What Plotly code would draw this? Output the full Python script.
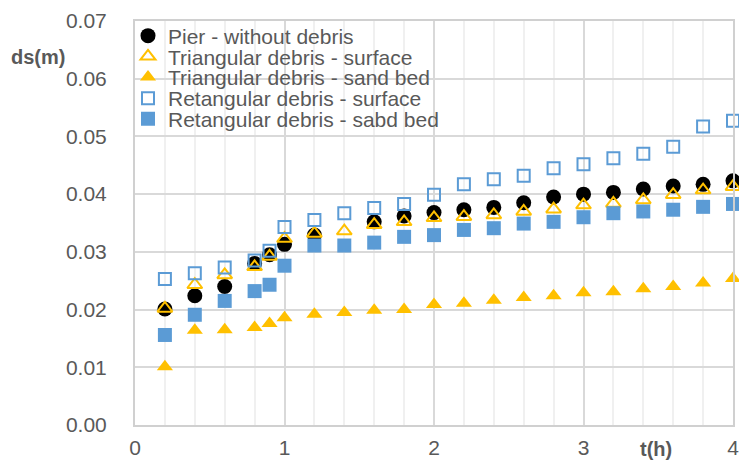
import plotly.graph_objects as go

t_h = [0.2, 0.4, 0.6, 0.8, 0.9, 1.0, 1.2, 1.4, 1.6, 1.8, 2.0, 2.2, 2.4, 2.6, 2.8, 3.0, 3.2, 3.4, 3.6, 3.8, 4.0]

pier = [0.0201, 0.0224, 0.0240, 0.0280, 0.0295, 0.0313, 0.0329, None, 0.0352, 0.0362, 0.0368,
        0.0373, 0.0377, 0.0385, 0.0395, 0.0400, 0.0403, 0.0409, 0.0414, 0.0417, 0.0423]
tri_surface = [0.0202, 0.0243, 0.0260, 0.0274, 0.0292, 0.0323, 0.0332, 0.0336, 0.0347, 0.0352, 0.0359,
               0.0361, 0.0364, 0.0370, 0.0374, 0.0381, 0.0384, 0.0390, 0.0399, 0.0407, 0.0413]
tri_sand = [0.0101, 0.0164, 0.0165, 0.0169, 0.0176, 0.0186, 0.0192, 0.0195, 0.0199, 0.0200, 0.0209,
            0.0211, 0.0216, 0.0221, 0.0224, 0.0229, 0.0231, 0.0236, 0.0240, 0.0246, 0.0254]
rect_surface = [0.0253, 0.0263, 0.0273, 0.0285, 0.0302, 0.0343, 0.0355, 0.0367, 0.0376, 0.0383, 0.0399,
                0.0417, 0.0426, 0.0432, 0.0445, 0.0452, 0.0462, 0.0470, 0.0482, 0.0517, 0.0527]
rect_sand = [0.0156, 0.0191, 0.0215, 0.0232, 0.0243, 0.0276, 0.0311, 0.0311, 0.0316, 0.0326, 0.0329,
             0.0338, 0.0341, 0.0349, 0.0352, 0.0360, 0.0367, 0.0370, 0.0373, 0.0378, 0.0383]

names = ["Pier - without debris", "Triangular debris - surface", "Triangular debris - sand bed",
         "Retangular debris - surface", "Retangular debris - sabd bed"]

x_ticks = [0, 1, 2, 3, 4]
y_ticks = [0.00, 0.01, 0.02, 0.03, 0.04, 0.05, 0.06, 0.07]

ORANGE = "#FFC000"
BLUE = "#5B9BD5"
TXT = "#595959"
FONT = "Liberation Sans, Arial, sans-serif"

series = [
    (pier, dict(symbol="circle", size=15, color="black", line=dict(width=0))),
    (tri_surface, dict(symbol="triangle-up-open", size=13, color=ORANGE, line=dict(width=2, color=ORANGE))),
    (tri_sand, dict(symbol="triangle-up", size=14, color=ORANGE, line=dict(width=0))),
    (rect_surface, dict(symbol="square-open", size=12, color=BLUE, line=dict(width=2, color=BLUE))),
    (rect_sand, dict(symbol="square", size=14, color=BLUE, line=dict(width=0))),
]

fig = go.Figure()
legend_ids = ["legend", "legend2", "legend3", "legend4", "legend5"]
for (vals, mk), nm, lg in zip(series, names, legend_ids):
    fig.add_trace(go.Scatter(x=t_h, y=vals, mode="markers", name=nm, marker=mk,
                             legend=lg, cliponaxis=False))

legend_y_px = [36, 56.7, 77.3, 98.5, 119]
top, bottom = 21, 425
left, right = 135, 733
layout_legends = {}
for lg, ypx in zip(legend_ids, legend_y_px):
    layout_legends[lg] = dict(
        x=(128 - left) / (right - left), xanchor="left",
        y=(bottom - ypx) / (bottom - top), yanchor="middle",
        bgcolor="rgba(0,0,0,0)", borderwidth=0,
        font=dict(family=FONT, size=21, color=TXT),
        tracegroupgap=0,
    )

fig.update_layout(
    width=739, height=461,
    margin=dict(l=left, r=739 - right, t=top, b=461 - bottom, autoexpand=False),
    paper_bgcolor="white", plot_bgcolor="white",
    font=dict(family=FONT, size=21, color=TXT),
    showlegend=True,
    **layout_legends,
)

fig.add_shape(type="rect", xref="paper", yref="paper",
              x0=(137 - left) / (right - left), x1=(443 - left) / (right - left),
              y0=(bottom - 135) / (bottom - top), y1=(bottom - 26) / (bottom - top),
              fillcolor="white", line=dict(width=0), layer="between")

fig.update_xaxes(
    range=[0, 4], tickvals=x_ticks, ticktext=[str(v) for v in x_ticks],
    showgrid=True, gridcolor="#D9D9D9", gridwidth=1.5,
    minor=dict(dtick=0.2, showgrid=True, gridcolor="#F0F0F0", gridwidth=1.5),
    showline=True, linecolor="#D0D0D0", linewidth=2, mirror=True,
    zeroline=False, ticks="", ticklabelstandoff=3, automargin=False,
    ticklabeloverflow="allow",
    tickfont=dict(family=FONT, size=21, color=TXT),
)
fig.update_yaxes(
    range=[0, 0.07], tickvals=y_ticks, ticktext=[f"{v:.2f}" for v in y_ticks],
    showgrid=True, gridcolor="#D9D9D9", gridwidth=1.5,
    showline=True, linecolor="#D0D0D0", linewidth=2, mirror=True,
    zeroline=False, ticks="", ticklabelstandoff=22, automargin=False,
    ticklabeloverflow="allow",
    tickfont=dict(family=FONT, size=21, color=TXT),
)

fig.add_annotation(text="<b>ds(m)</b>", xref="paper", yref="paper",
                   x=(38 - left) / (right - left), y=(bottom - 57) / (bottom - top),
                   xanchor="center", yanchor="middle", showarrow=False,
                   font=dict(family=FONT, size=20, color=TXT))
fig.add_annotation(text="<b>t(h)</b>", xref="paper", yref="paper",
                   x=(656 - left) / (right - left), y=(bottom - 449) / (bottom - top),
                   xanchor="center", yanchor="middle", showarrow=False,
                   font=dict(family=FONT, size=20, color=TXT))

fig.write_html("out.html")
